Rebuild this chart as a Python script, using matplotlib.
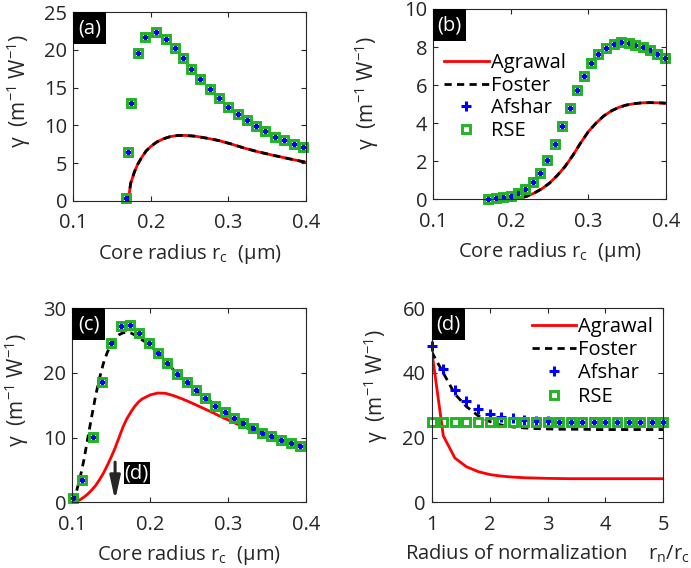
import matplotlib
matplotlib.use("Agg")
import matplotlib.pyplot as plt
from matplotlib.patches import Rectangle

plt.rcParams["font.family"] = ["Open Sans", "DejaVu Sans"]
plt.rcParams["mathtext.fontset"] = "custom"
plt.rcParams["mathtext.rm"] = "Open Sans"
plt.rcParams["mathtext.it"] = "Open Sans:italic"
plt.rcParams["font.size"] = 14

INK = "#262626"
RED = "#ff0000"
BLUE = "#0000ff"
GREEN = "#22b422"

# (a)
a_r_pts = [0.168, 0.170, 0.175, 0.184, 0.193, 0.207, 0.220, 0.231, 0.242, 0.252, 0.264,
           0.276, 0.288, 0.300, 0.312, 0.324, 0.336, 0.348, 0.360, 0.372, 0.385, 0.397]
a_afshar = [0.3, 6.4, 12.9, 19.6, 21.7, 22.4, 21.4, 20.3, 19.0, 17.5, 16.2,
            14.8, 13.6, 12.5, 11.5, 10.7, 9.9, 9.2, 8.5, 8.0, 7.5, 7.1]
a_rse = [0.3, 6.4, 12.9, 19.6, 21.7, 22.4, 21.4, 20.3, 19.0, 17.5, 16.2,
         14.8, 13.6, 12.5, 11.5, 10.7, 9.9, 9.2, 8.5, 8.0, 7.5, 7.1]
a_r_curve = [0.171, 0.174, 0.176, 0.179, 0.183, 0.188, 0.194, 0.200, 0.208, 0.216, 0.225,
             0.235, 0.245, 0.258, 0.272, 0.287, 0.303, 0.320, 0.338, 0.357, 0.377, 0.399]
a_agrawal = [0.0, 2.3, 2.9, 3.85, 4.8, 5.7, 6.6, 7.2, 7.8, 8.2, 8.5,
             8.66, 8.66, 8.55, 8.3, 8.0, 7.55, 7.0, 6.5, 6.05, 5.6, 5.13]
a_foster = [0.0, 2.3, 2.9, 3.85, 4.8, 5.7, 6.6, 7.2, 7.8, 8.2, 8.5,
            8.66, 8.66, 8.55, 8.3, 8.0, 7.55, 7.0, 6.5, 6.05, 5.6, 5.13]

# (b)
b_r_pts = [0.171, 0.181, 0.190, 0.200, 0.209, 0.219, 0.229, 0.238, 0.247, 0.257, 0.266, 0.276,
           0.285, 0.295, 0.304, 0.313, 0.323, 0.333, 0.342, 0.352, 0.361, 0.371, 0.380, 0.389, 0.399]
b_afshar = [0.02, 0.05, 0.10, 0.19, 0.35, 0.56, 0.91, 1.40, 2.07, 2.91, 3.84, 4.81,
            5.73, 6.50, 7.18, 7.65, 7.97, 8.18, 8.25, 8.22, 8.11, 7.99, 7.83, 7.62, 7.41]
b_rse = [0.02, 0.05, 0.10, 0.19, 0.35, 0.56, 0.91, 1.40, 2.07, 2.91, 3.84, 4.81,
         5.73, 6.50, 7.18, 7.65, 7.97, 8.18, 8.25, 8.22, 8.11, 7.99, 7.83, 7.62, 7.41]
b_r_curve = [0.200, 0.210, 0.220, 0.230, 0.240, 0.250, 0.260, 0.270, 0.280, 0.290, 0.300,
             0.310, 0.320, 0.330, 0.340, 0.350, 0.360, 0.370, 0.380, 0.390, 0.400]
b_agrawal = [0.0, 0.05, 0.15, 0.32, 0.55, 0.85, 1.25, 1.72, 2.30, 2.95, 3.55,
             4.00, 4.38, 4.65, 4.84, 4.96, 5.03, 5.07, 5.08, 5.07, 5.05]
b_foster = [0.0, 0.05, 0.15, 0.32, 0.55, 0.85, 1.25, 1.72, 2.30, 2.95, 3.55,
            4.00, 4.38, 4.65, 4.84, 4.96, 5.03, 5.07, 5.08, 5.07, 5.05]

# (c)
c_r_pts = [0.101, 0.113, 0.126, 0.138, 0.150, 0.162, 0.174, 0.186, 0.198, 0.210, 0.222, 0.235,
           0.247, 0.259, 0.271, 0.283, 0.296, 0.308, 0.320, 0.332, 0.344, 0.356, 0.368, 0.381, 0.393]
c_afshar = [0.7, 3.5, 10.1, 18.6, 24.6, 27.3, 27.4, 26.2, 24.7, 23.1, 21.5, 19.9,
            18.55, 17.3, 16.1, 14.9, 14.0, 13.1, 12.3, 11.5, 10.7, 10.2, 9.6, 9.1, 8.7]
c_rse = [0.7, 3.5, 10.1, 18.6, 24.6, 27.3, 27.4, 26.2, 24.7, 23.1, 21.5, 19.9,
         18.55, 17.3, 16.1, 14.9, 14.0, 13.1, 12.3, 11.5, 10.7, 10.2, 9.6, 9.1, 8.7]
c_r_curve = [0.100, 0.105, 0.110, 0.115, 0.120, 0.125, 0.130, 0.135, 0.140, 0.145,
             0.150, 0.155, 0.160, 0.165, 0.170, 0.175, 0.180, 0.185, 0.190, 0.200,
             0.210, 0.220, 0.230, 0.240, 0.250, 0.260, 0.270, 0.280, 0.290, 0.300,
             0.310, 0.320, 0.330, 0.340, 0.350, 0.360, 0.370, 0.380, 0.390, 0.395]
c_agrawal = [0.0, 0.1, 0.4, 0.8, 1.3, 1.9, 2.6, 3.5, 4.5, 5.7,
             7.0, 8.4, 10.0, 11.6, 12.9, 13.9, 14.8, 15.5, 16.0, 16.6,
             16.9, 16.85, 16.5, 16.05, 15.55, 15.0, 14.45, 13.9, 13.3, 12.75,
             12.2, 11.7, 11.2, 10.75, 10.3, 9.9, 9.5, 9.15, 8.8, 8.65]
c_foster = [0.0, 1.5, 3.8, 6.6, 10.0, 13.3, 16.5, 19.2, 21.5, 23.2,
            24.4, 25.3, 25.9, 26.2, 26.3, 26.2, 25.9, 25.5, 25.1, 24.3,
            23.1, 21.8, 20.5, 19.3, 18.2, 17.2, 16.3, 15.4, 14.5, 13.7,
            13.0, 12.3, 11.7, 11.1, 10.5, 10.0, 9.6, 9.2, 8.9, 8.7]
c_mark_r = 0.155

# (d)
d_ratio = [1.0, 1.2, 1.4, 1.6, 1.8, 2.0, 2.2, 2.4, 2.6, 2.8, 3.0,
           3.2, 3.4, 3.6, 3.8, 4.0, 4.2, 4.4, 4.6, 4.8, 5.0]
d_agrawal = [47.0, 20.6, 13.7, 11.0, 9.5, 8.6, 8.1, 7.8, 7.6, 7.5, 7.4,
             7.35, 7.3, 7.3, 7.3, 7.3, 7.3, 7.3, 7.3, 7.3, 7.3]
d_foster = [46.5, 40.0, 33.5, 29.6, 26.8, 25.0, 23.9, 23.3, 23.0, 22.8, 22.7,
            22.6, 22.6, 22.6, 22.5, 22.5, 22.5, 22.5, 22.5, 22.5, 22.5]
d_afshar = [48.2, 41.3, 34.8, 31.2, 28.9, 27.4, 26.5, 26.0, 25.4, 25.15, 25.0,
            24.9, 24.9, 24.9, 24.9, 24.9, 24.9, 24.9, 24.9, 24.9, 24.9]
d_rse = [24.7, 24.7, 24.7, 24.7, 24.7, 24.7, 24.7, 24.7, 24.7, 24.7, 24.7,
         24.7, 24.7, 24.7, 24.7, 24.7, 24.7, 24.7, 24.7, 24.7, 24.7]

W, H = 691, 568
fig = plt.figure(figsize=(W / 100, H / 100), dpi=100)


def make_axes(left, top, right, bottom):
    ax = fig.add_axes([left / W, 1 - bottom / H, (right - left) / W, (bottom - top) / H])
    ax.tick_params(direction="in", top=True, right=True, length=3.5, width=0.8,
                   color=INK, labelcolor=INK, labelsize=14.5)
    ax.tick_params(axis="x", pad=9)
    ax.tick_params(axis="y", pad=4.5)
    for s in ax.spines.values():
        s.set_color(INK)
        s.set_linewidth(0.8)
    return ax, right - left, bottom - top


def draw(ax, xc, agrawal, foster, xp, afshar, rse):
    ax.plot(xc, agrawal, color=RED, lw=2.0, label="Agrawal")
    ax.plot(xc, foster, color="black", lw=2.0, ls=(0, (2.6, 1.9)), label="Foster")
    ax.plot(xp, afshar, ls="none", marker="+", ms=7.5, mew=2.2, color=BLUE,
            label="Afshar", clip_on=False)
    ax.plot(xp, rse, ls="none", marker="s", ms=6.4, mew=2.1, mfc="none", mec=GREEN,
            label="RSE", clip_on=False)


def tag(ax, w, h, text):
    bw, bh = 33 / w, 32 / h
    ax.add_patch(Rectangle((0, 1 - bh), bw, bh, transform=ax.transAxes,
                           facecolor="black", edgecolor="none", zorder=5))
    ax.text(bw / 2, 1 - bh / 2, text, transform=ax.transAxes, color="white",
            ha="center", va="center", fontsize=14.5, zorder=6)


def labels(ax, w, h, xlab, ylab_right, ylab_mid):
    ax.set_xlabel(xlab, color=INK, fontsize=14.5, labelpad=6)
    ax.set_ylabel(r"γ  (m$^{\mathregular{-1}}$ W$^{\mathregular{-1}}$)", color=INK, fontsize=15)
    ax.yaxis.set_label_coords(-ylab_right / w, ylab_mid)


xlab_r = r"Core radius r$_{\mathregular{c}}$  (μm)"

# panel (a)
ax, w, h = make_axes(73.3, 12.3, 305.7, 200.7)
draw(ax, a_r_curve, a_agrawal, a_foster, a_r_pts, a_afshar, a_rse)
ax.set_xlim(0.1, 0.4)
ax.set_ylim(0, 25)
ax.set_xticks([0.1, 0.2, 0.3, 0.4])
ax.set_yticks([0, 5, 10, 15, 20, 25])
labels(ax, w, h, xlab_r, 40, 0.58)
tag(ax, w, h, "(a)")

# panel (b)
ax, w, h = make_axes(433.3, 9.0, 665.7, 199.3)
draw(ax, b_r_curve, b_agrawal, b_foster, b_r_pts, b_afshar, b_rse)
ax.set_xlim(0.1, 0.4)
ax.set_ylim(0, 10)
ax.set_xticks([0.1, 0.2, 0.3, 0.4])
ax.set_yticks([0, 2, 4, 6, 8, 10])
labels(ax, w, h, xlab_r, 52, 0.56)
tag(ax, w, h, "(b)")
ax.legend(loc="upper left", bbox_to_anchor=(0.047, 0.77), frameon=False, fontsize=14.5,
          handlelength=2.2, handletextpad=0.1, labelspacing=0.14, borderpad=0,
          borderaxespad=0)

# panel (c)
ax, w, h = make_axes(72.3, 308.3, 305.7, 502.3)
draw(ax, c_r_curve, c_agrawal, c_foster, c_r_pts, c_afshar, c_rse)
ax.set_xlim(0.1, 0.4)
ax.set_ylim(0, 30)
ax.set_xticks([0.1, 0.2, 0.3, 0.4])
ax.set_yticks([0, 10, 20, 30])
labels(ax, w, h, xlab_r, 41, 0.58)
tag(ax, w, h, "(c)")
ax.annotate("", xy=(c_mark_r, 0.3), xytext=(c_mark_r, 6.2),
            arrowprops=dict(arrowstyle="-|>,head_length=1.0,head_width=0.22",
                            mutation_scale=14, lw=2.2, color=INK, shrinkA=0, shrinkB=0))
ax.text(0.183, 4.5, "(d)", color="white", ha="center", va="center", fontsize=14.5,
        bbox=dict(boxstyle="square,pad=0.05", facecolor="black", edgecolor="none"))

# panel (d)
ax, w, h = make_axes(431.7, 308.3, 663.3, 502.3)
draw(ax, d_ratio, d_agrawal, d_foster, d_ratio, d_afshar, d_rse)
ax.set_xlim(1, 5)
ax.set_ylim(0, 60)
ax.set_xticks([1, 2, 3, 4, 5])
ax.set_yticks([0, 20, 40, 60])
labels(ax, w, h, r"Radius of normalization    r$_{\mathregular{n}}$/r$_{\mathregular{c}}$",
       42, 0.60)
tag(ax, w, h, "(d)")
ax.legend(loc="upper right", bbox_to_anchor=(0.955, 0.955), frameon=False, fontsize=14.5,
          handlelength=2.2, handletextpad=0.1, labelspacing=0.16, borderpad=0,
          borderaxespad=0)

fig.savefig("out.png", dpi=100)
